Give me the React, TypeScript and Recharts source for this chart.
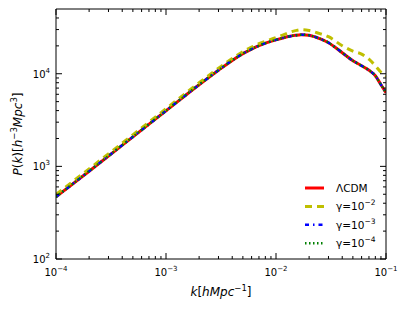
import React from 'react';
import { LineChart, Line, XAxis, YAxis, Legend } from 'recharts';

// k in h/Mpc, P(k) in (Mpc/h)^3
const kValues = [1e-4, 2e-4, 5e-4, 1e-3, 2e-3, 3e-3, 4e-3, 5e-3, 6e-3, 7e-3, 1e-2, 1.5e-2, 1.7e-2, 2e-2, 2.5e-2, 3e-2, 4e-2, 5e-2, 6e-2, 7e-2, 8e-2, 9e-2, 1e-1];
const lcdm = [468, 887, 2083, 3981, 7606, 10910, 13930, 16470, 18450, 20090, 23190, 26000, 26400, 26000, 23890, 21630, 16870, 13820, 12200, 10910, 9510, 7610, 6230];
const gamma2 = [498, 940, 2190, 4190, 7990, 11460, 14630, 17290, 19360, 21110, 24500, 29200, 29900, 29300, 27100, 25100, 20090, 17510, 16300, 14350, 12200, 10380, 9400];
const gamma3 = [468, 887, 2083, 3981, 7606, 10910, 13930, 16470, 18450, 20090, 23190, 26000, 26400, 26000, 23890, 21630, 16870, 13820, 12200, 10910, 9510, 7610, 6230];
const gamma4 = [468, 887, 2083, 3981, 7606, 10910, 13930, 16470, 18450, 20090, 23190, 26000, 26400, 26000, 23890, 21630, 16870, 13820, 12200, 10910, 9510, 7610, 6230];

const xMajorTicks = [1e-4, 1e-3, 1e-2, 1e-1];
const yMajorTicks = [1e2, 1e3, 1e4];
const minorSteps = [2, 3, 4, 5, 6, 7, 8, 9];
const xMinorTicks = [1e-4, 1e-3, 1e-2].flatMap((d) => minorSteps.map((m) => m * d));
const yMinorTicks = [1e2, 1e3, 1e4].flatMap((d) => minorSteps.map((m) => m * d)).filter((v) => v < 5e4);

const FONT = '"DejaVu Sans", sans-serif';

const series = [
  { key: 'lcdm', label: 'ΛCDM', exp: null, color: '#ff0000', width: 3, dash: undefined },
  { key: 'g2', label: 'γ=10', exp: '−2', color: '#bfbf00', width: 3, dash: '7 5' },
  { key: 'g3', label: 'γ=10', exp: '−3', color: '#0000ff', width: 2.5, dash: '4 4 1.5 4' },
  { key: 'g4', label: 'γ=10', exp: '−4', color: '#008000', width: 2.5, dash: '1.5 2.5' },
];

const data = kValues.map((k, i) => ({
  k,
  lcdm: lcdm[i],
  g2: gamma2[i],
  g3: gamma3[i],
  g4: gamma4[i],
}));

const isMajor = (v: number) => Math.abs(Math.log10(v) - Math.round(Math.log10(v))) < 1e-6;
const expText = (v: number) => {
  const e = Math.round(Math.log10(v));
  return e < 0 ? `−${-e}` : `${e}`;
};

const PowerLabel = ({ x, y, v, anchor }: any) => (
  <text x={x} y={y} textAnchor={anchor} fontFamily={FONT} fontSize={10} fill="#000">
    <tspan>10</tspan>
    <tspan dy={-5} fontSize={7}>{expText(v)}</tspan>
  </text>
);

// ticks point inward like matplotlib, labels only on bottom/left
const BottomTick = ({ x, y, payload }: any) => {
  const major = isMajor(payload.value);
  return (
    <g>
      <line x1={x} x2={x} y1={y} y2={y - (major ? 6 : 3)} stroke="#000" />
      {major && <PowerLabel x={x} y={y + 17} v={payload.value} anchor="middle" />}
    </g>
  );
};

const TopTick = ({ x, y, payload }: any) => (
  <line x1={x} x2={x} y1={y} y2={y + (isMajor(payload.value) ? 6 : 3)} stroke="#000" />
);

const LeftTick = ({ x, y, payload }: any) => {
  const major = isMajor(payload.value);
  return (
    <g>
      <line x1={x} x2={x + (major ? 6 : 3)} y1={y} y2={y} stroke="#000" />
      {major && <PowerLabel x={x - 6} y={y + 4} v={payload.value} anchor="end" />}
    </g>
  );
};

const RightTick = ({ x, y, payload }: any) => (
  <line x1={x} x2={x - (isMajor(payload.value) ? 6 : 3)} y1={y} y2={y} stroke="#000" />
);

const XLabel = ({ viewBox }: any) => (
  <text x={viewBox.x + viewBox.width / 2} y={viewBox.y + 37} textAnchor="middle" fontFamily={FONT} fontSize={12} fill="#000">
    <tspan fontStyle="italic">k</tspan>
    <tspan>[</tspan>
    <tspan fontStyle="italic">hMpc</tspan>
    <tspan dy={-5} fontSize={8.5}>−1</tspan>
    <tspan dy={5}>]</tspan>
  </text>
);

const YLabel = ({ viewBox }: any) => {
  const cx = viewBox.x + viewBox.width - 34;
  const cy = viewBox.y + viewBox.height / 2;
  return (
    <text x={cx} y={cy} transform={`rotate(-90 ${cx} ${cy})`} textAnchor="middle" fontFamily={FONT} fontSize={12} fill="#000">
      <tspan fontStyle="italic">P</tspan>
      <tspan>(</tspan>
      <tspan fontStyle="italic">k</tspan>
      <tspan>)[</tspan>
      <tspan fontStyle="italic">h</tspan>
      <tspan dy={-5} fontSize={8.5}>−3</tspan>
      <tspan dy={5} fontStyle="italic">Mpc</tspan>
      <tspan dy={-5} fontSize={8.5}>3</tspan>
      <tspan dy={5}>]</tspan>
    </text>
  );
};

const LegendBox = () => (
  <svg width={90} height={80} style={{ overflow: 'visible', display: 'block' }}>
    {series.map((s, i) => (
      <g key={s.key} transform={`translate(0, ${10 + i * 18.4})`}>
        <line x1={5} x2={24} y1={0} y2={0} stroke={s.color} strokeWidth={s.width} strokeDasharray={s.dash} />
        <text x={36} y={4} fontFamily={FONT} fontSize={10.5} fill="#000">
          <tspan>{s.label}</tspan>
          {s.exp && <tspan dy={-5} fontSize={7.5}>{s.exp}</tspan>}
        </text>
      </g>
    ))}
  </svg>
);

const App: React.FC = () => {
  return (
    <div style={{ position: 'absolute', left: 0, top: 0, background: '#fff' }}>
      <LineChart width={409} height={309} data={data} margin={{ top: 8, right: 22, bottom: 49, left: 55 }}>
        <XAxis
          dataKey="k"
          type="number"
          scale="log"
          domain={[1e-4, 1e-1]}
          allowDataOverflow
          ticks={[...xMajorTicks, ...xMinorTicks]}
          interval={0}
          height={1}
          tickSize={0}
          tickMargin={0}
          tickLine={false}
          axisLine={{ stroke: '#000' }}
          tick={<BottomTick />}
          label={<XLabel />}
        />
        <XAxis
          xAxisId="top"
          orientation="top"
          dataKey="k"
          type="number"
          scale="log"
          domain={[1e-4, 1e-1]}
          allowDataOverflow
          ticks={[...xMajorTicks, ...xMinorTicks]}
          interval={0}
          height={1}
          tickSize={0}
          tickMargin={0}
          tickLine={false}
          axisLine={{ stroke: '#000' }}
          tick={<TopTick />}
        />
        <YAxis
          type="number"
          scale="log"
          domain={[1e2, 5e4]}
          allowDataOverflow
          ticks={[...yMajorTicks, ...yMinorTicks]}
          interval={0}
          width={1}
          tickSize={0}
          tickMargin={0}
          tickLine={false}
          axisLine={{ stroke: '#000' }}
          tick={<LeftTick />}
          label={<YLabel />}
        />
        <YAxis
          yAxisId="right"
          orientation="right"
          type="number"
          scale="log"
          domain={[1e2, 5e4]}
          allowDataOverflow
          ticks={[...yMajorTicks, ...yMinorTicks]}
          interval={0}
          width={1}
          tickSize={0}
          tickMargin={0}
          tickLine={false}
          axisLine={{ stroke: '#000' }}
          tick={<RightTick />}
        />
        {series.map((s) => (
          <Line
            key={s.key}
            type="monotone"
            dataKey={s.key}
            stroke={s.color}
            strokeWidth={s.width}
            strokeDasharray={s.dash}
            dot={false}
            activeDot={false}
            isAnimationActive={false}
          />
        ))}
        <Legend
          layout="vertical"
          align="center"
          verticalAlign="middle"
          content={<LegendBox />}
          wrapperStyle={{ left: 300, top: 178, width: 90, height: 80 }}
        />
      </LineChart>
    </div>
  );
};

export default App;
